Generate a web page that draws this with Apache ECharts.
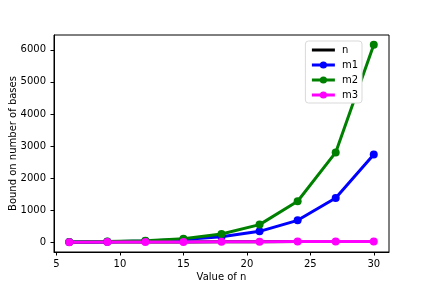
<!DOCTYPE html>
<html>
<head>
<meta charset="utf-8">
<script src="https://cdn.jsdelivr.net/npm/echarts@6/dist/echarts.min.js"></script>
<style>html,body{margin:0;padding:0;background:#fff;}#c{width:432px;height:288px;}</style>
</head>
<body>
<div id="c"></div>
<script>
var nValues = [6, 9, 12, 15, 18, 21, 24, 27, 30];
var seriesN = [6, 9, 12, 15, 18, 21, 24, 27, 30];
var seriesM1 = [11, 21, 43, 86, 175, 344, 687, 1384, 2740];
var seriesM2 = [11, 24, 52, 115, 260, 553, 1281, 2803, 6160];
var seriesM3 = [6, 9, 12, 15, 18, 21, 24, 27, 30];
var xTicks = [5, 10, 15, 20, 25, 30];
var yTicks = [0, 1000, 2000, 3000, 4000, 5000, 6000];

function pairs(vals) { return nValues.map(function (x, i) { return [x, vals[i]]; }); }

var font = 'DejaVu Sans';
var chart = echarts.init(document.getElementById('c'), null, {renderer: 'canvas'});
function mk(name, vals, color, sym) {
  return {
    name: name, type: 'line', data: pairs(vals),
    symbol: sym ? 'circle' : 'none', showSymbol: !!sym, symbolSize: 8,
    lineStyle: {color: color, width: 3}, itemStyle: {color: color},
    animation: false, emphasis: {disabled: true}
  };
}
chart.setOption({
  animation: false,
  textStyle: {fontFamily: font},
  grid: {left: 54, right: 43, top: 35, bottom: 36, show: true, borderColor: '#000', borderWidth: 1,
         backgroundColor: 'transparent', containLabel: false, outerBoundsMode: 'none'},
  legend: {
    orient: 'vertical', right: 70, top: 41, padding: [4, 4, 3, 5],
    itemWidth: 23, itemHeight: 9, itemGap: 5,
    backgroundColor: '#fff', borderColor: '#d9d9d9', borderWidth: 1, borderRadius: 3,
    lineStyle: {width: 3},
    textStyle: {fontFamily: font, fontSize: 10, color: '#000', padding: [0, 0, 0, 2]},
    data: [{name: 'n', itemStyle: {opacity: 0}}, 'm1', 'm2', 'm3']
  },
  xAxis: {
    type: 'value', min: 4.8, max: 31.2,
    name: 'Value of n', nameLocation: 'middle', nameGap: 20, nameMoveOverlap: false,
    nameTextStyle: {fontFamily: font, fontSize: 10, color: '#000'},
    splitLine: {show: false},
    axisLine: {show: true, onZero: false, lineStyle: {color: '#000', width: 1}},
    axisTick: {show: true, length: 3.5, customValues: xTicks, lineStyle: {color: '#000'}},
    axisLabel: {customValues: xTicks, fontFamily: font, fontSize: 10, color: '#000', margin: 7}
  },
  yAxis: {
    type: 'value', min: -300, max: 6460,
    name: 'Bound on number of bases', nameLocation: 'middle', nameGap: 36, nameMoveOverlap: false,
    nameTextStyle: {fontFamily: font, fontSize: 10, color: '#000'},
    splitLine: {show: false},
    axisLine: {show: true, onZero: false, lineStyle: {color: '#000', width: 1}},
    axisTick: {show: true, length: 3.5, customValues: yTicks, lineStyle: {color: '#000'}},
    axisLabel: {customValues: yTicks, fontFamily: font, fontSize: 10, color: '#000', margin: 8,
                formatter: function (v) { return String(v); }}
  },
  series: [
    mk('n', seriesN, '#000000', false),
    mk('m1', seriesM1, '#0000ff', true),
    mk('m2', seriesM2, '#008000', true),
    mk('m3', seriesM3, '#ff00ff', true)
  ]
});
</script>
</body>
</html>
